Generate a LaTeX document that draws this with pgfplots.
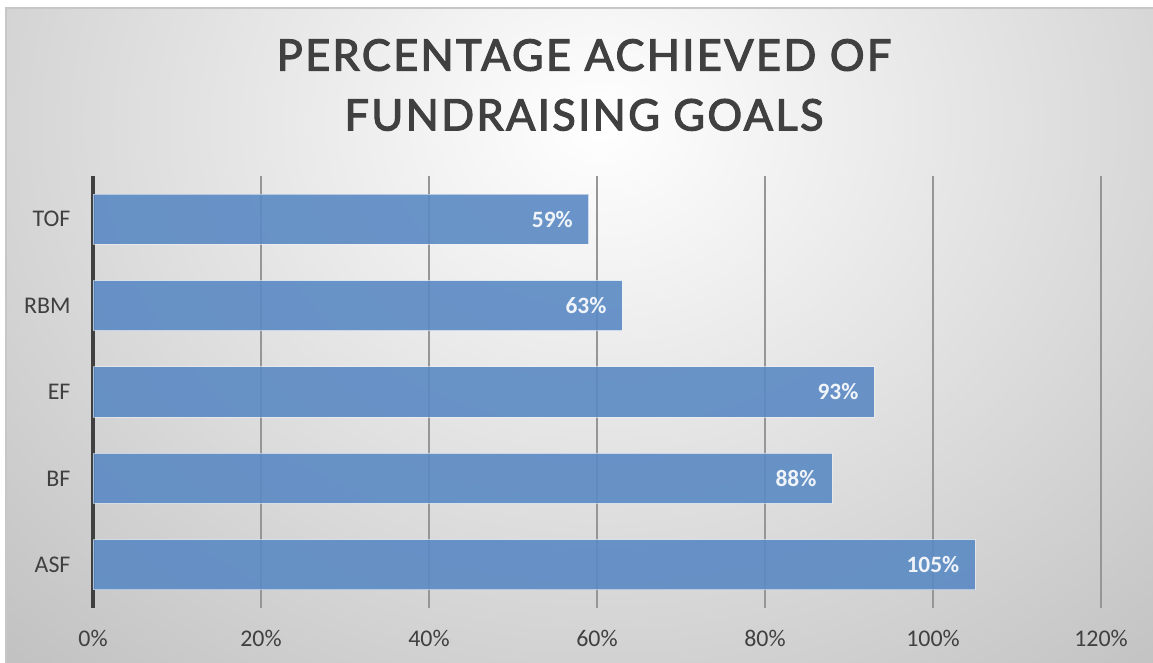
\documentclass[border=0pt]{standalone}
\usepackage{fontspec}
\setmainfont{Carlito}
\newfontfamily\titlefont[FakeBold=2.6, LetterSpace=5.5]{Lato}
\usepackage{pgfplots}
\pgfplotsset{compat=1.18}

\definecolor{barblue}{RGB}{91,138,196}
\definecolor{txtgray}{RGB}{64,64,64}
\definecolor{gridgray}{RGB}{150,150,150}

\begin{document}
\begin{tikzpicture}[x=1bp,y=1bp]
% background panel (page 1153 x 663, y up)
\path[use as bounding box] (0,0) rectangle (1153,663);
\begin{scope}
  \clip (6,0) rectangle (1153,655);
  \fill[black!25] (6,0) rectangle (1153,655);
  \shade[inner color=white, outer color=black!25] (600,540) ellipse [x radius=900, y radius=760];
\end{scope}
\draw[black!22, line width=1.5bp] (6,0) -- (6,655) -- (1153,655);
\node[font=\titlefont\fontsize{43.5}{60}\selectfont, text=txtgray, align=center, anchor=center]
  at (584,578) {PERCENTAGE ACHIEVED OF\\FUNDRAISING GOALS};
\begin{axis}[
  at={(93bp,55bp)}, anchor=south west,
  scale only axis, width=1008bp, height=432bp,
  xbar, bar width=0.58,
  xmin=0, xmax=120, ymin=-0.5, ymax=4.5,
  xtick={0,20,...,120},
  xticklabel={\pgfmathprintnumber{\tick}\%},
  ytick={0,1,2,3,4},
  yticklabels={ASF,BF,EF,RBM,TOF},
  axis x line*=bottom, axis y line*=left,
  x axis line style={draw=none},
  y axis line style={draw=txtgray, line width=3.5bp},
  major tick length=0pt,
  xmajorgrids, grid style={gridgray, line width=1.5bp},
  tick label style={font=\fontsize{24}{28}\selectfont, text=txtgray},
  xticklabel style={yshift=-19bp},
  yticklabel style={xshift=-19bp},
  /pgf/number format/assume math mode=true,
  point meta=x,
  nodes near coords={\textbf{\pgfmathprintnumber{\pgfplotspointmeta}\%}},
  every node near coord/.append style={anchor=east, xshift=-12bp,
     text=white, font=\fontsize{23.5}{27}\selectfont},
]
\addplot[fill=barblue, fill opacity=0.9, draw=white, draw opacity=0.5, line width=1bp]
  coordinates {(105,0) (88,1) (93,2) (63,3) (59,4)};
\end{axis}
\end{tikzpicture}
\end{document}
